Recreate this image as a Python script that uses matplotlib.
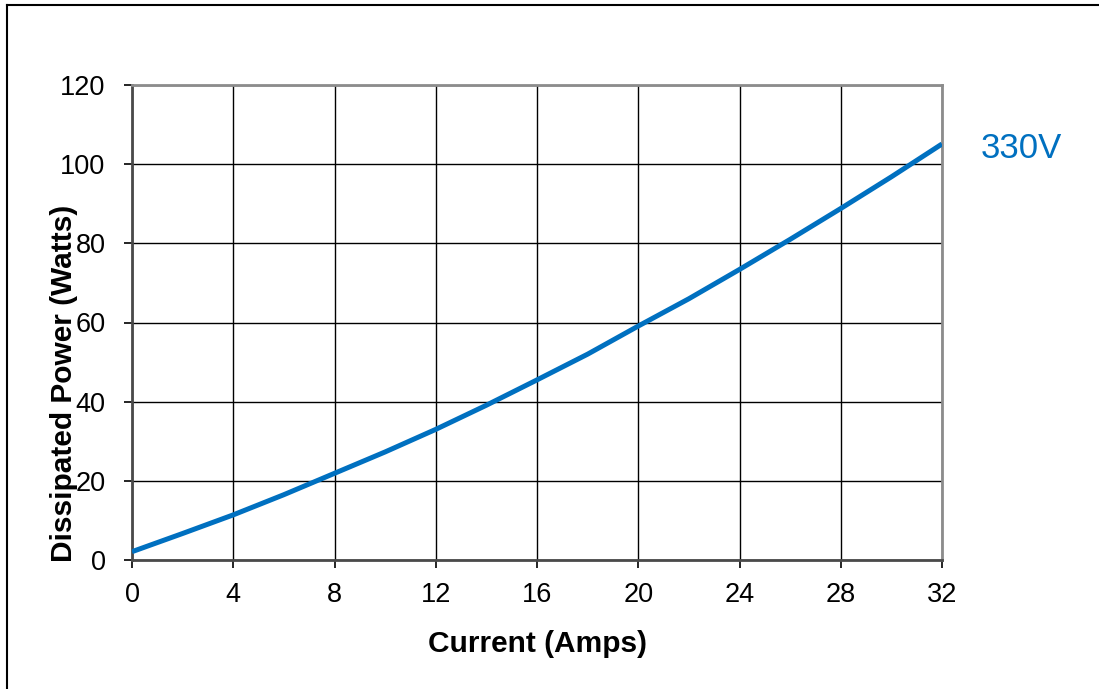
import matplotlib
matplotlib.use('Agg')
import matplotlib.pyplot as plt
from matplotlib.lines import Line2D

plt.rcParams['font.family'] = ['Liberation Sans', 'DejaVu Sans']

# current (A) vs dissipated power (W)
current = [0, 2, 4, 6, 8, 10, 12, 14, 16, 18, 20, 22, 24, 26, 28, 30, 32]
power = [2.1, 6.7, 11.4, 16.5, 21.9, 27.3, 33.0, 39.1, 45.5, 52.0, 59.1,
         66.0, 73.4, 81.0, 88.8, 96.8, 105.1]
series_label = '330V'
xticks = [0, 4, 8, 12, 16, 20, 24, 28, 32]
yticks = [0, 20, 40, 60, 80, 100, 120]

blue = '#0070C0'

fig = plt.figure(figsize=(10.99, 6.89), dpi=100)
ax = fig.add_axes([132/1099, 1 - 560/689, 810/1099, 475/689])

ax.plot(current, power, color=blue, lw=3.6, solid_capstyle='butt', zorder=3)

ax.set_xlim(0, 32)
ax.set_ylim(0, 120)
ax.set_xticks(xticks)
ax.set_yticks(yticks)
ax.grid(True, color='black', lw=1.0)
ax.set_axisbelow(True)

ax.tick_params(axis='both', direction='out', length=6, width=1.2, colors='black',
               labelsize=19.5)
ax.tick_params(axis='x', pad=10)
ax.tick_params(axis='y', pad=13)

for side in ['left', 'bottom']:
    ax.spines[side].set_color('#4a4a4a')
    ax.spines[side].set_linewidth(2)
for side in ['top', 'right']:
    ax.spines[side].set_color('#8c8c8c')
    ax.spines[side].set_linewidth(2)

ax.set_xlabel('Current (Amps)', fontsize=21.5, fontweight='bold')
ax.set_ylabel('Dissipated Power (Watts)', fontsize=21.5, fontweight='bold')
ax.xaxis.set_label_coords(0.501, -0.148)
ax.yaxis.set_label_coords(-0.067, 0.372)

ax.annotate(series_label, xy=(current[-1], power[-1]), xytext=(28, -3),
            textcoords='offset points', color=blue, fontsize=25,
            va='center', ha='left', annotation_clip=False)

# frame lines at the top and left of the image
fig.add_artist(Line2D([7/1099, 1], [1 - 4.5/689, 1 - 4.5/689],
                      transform=fig.transFigure, color='black', lw=1.5))
fig.add_artist(Line2D([7/1099, 7/1099], [0, 1 - 4.5/689],
                      transform=fig.transFigure, color='black', lw=1.5))

fig.savefig('out.png', dpi=100, facecolor='white')
